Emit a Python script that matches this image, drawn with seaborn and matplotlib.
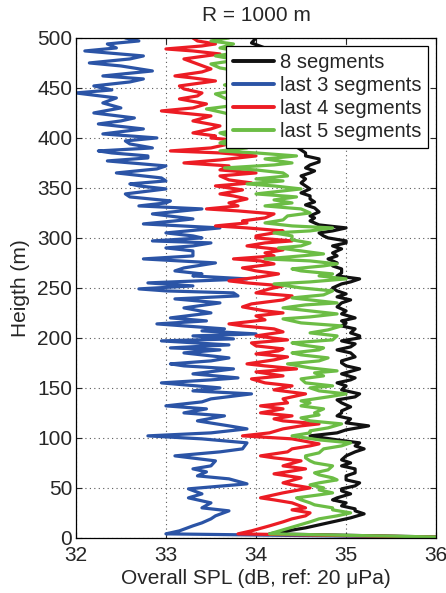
import matplotlib
matplotlib.use('Agg')
import matplotlib.pyplot as plt
import seaborn as sns
import pandas as pd

# series labels and colours
labels = ['8 segments', 'last 3 segments', 'last 4 segments', 'last 5 segments']
colors = ['#111111', '#2b54a6', '#ec1c24', '#6cbd45']

# (height m, overall SPL dB)
h_black = [0, 4, 7, 10, 13, 17, 20, 24, 27, 29, 32, 35, 38, 40, 44, 47, 49, 52, 55, 58,
           62, 65, 69, 72, 75, 78, 82, 86, 89, 92, 95, 98, 102, 105, 108, 112, 115, 119, 122, 125,
           127, 131, 135, 138, 141, 144, 148, 152, 155, 158, 160, 164, 169, 172, 175, 177, 181, 185, 188, 191,
           194, 197, 200, 202, 205, 209, 212, 215, 217, 220, 224, 227, 231, 235, 238, 241, 244, 247, 250, 254,
           256, 259, 262, 265, 269, 272, 275, 279, 282, 285, 289, 292, 295, 297, 300, 302, 305, 307, 310, 313,
           317, 320, 322, 326, 330, 333, 336, 339, 342, 345, 349, 352, 355, 359, 362, 365, 367, 370, 373, 376,
           379, 382, 385, 388, 391, 395, 400, 420, 450, 480, 490, 495, 500]
x_black = [36.5, 34.15, 34.35, 34.55, 34.7, 34.9, 35.05, 35.2, 35.1, 35.1, 34.95, 35.0, 34.85, 34.9, 35.05, 34.95, 34.95, 35.1, 35.15, 35.0,
           35.0, 35.1, 35.1, 34.95, 35.05, 34.95, 35.0, 35.1, 35.2, 35.1, 35.15, 34.9, 34.6, 34.9, 35.0, 35.25, 35.0, 35.05, 34.9, 34.95,
           34.95, 35.05, 34.95, 34.9, 35.1, 35.15, 34.95, 35.0, 34.9, 35.05, 35.1, 34.95, 35.15, 35.0, 34.95, 34.95, 35.1, 35.05, 34.9, 35.05,
           35.1, 34.95, 35.15, 35.15, 35.05, 35.1, 34.95, 35.0, 34.95, 35.1, 34.95, 35.0, 34.9, 34.95, 35.05, 34.9, 35.0, 34.9, 34.85, 34.95,
           35.05, 35.15, 34.9, 34.95, 34.95, 34.85, 34.9, 34.8, 34.9, 34.85, 34.95, 34.85, 35.0, 35.0, 34.8, 34.75, 34.7, 34.85, 35.0, 34.7,
           34.6, 34.65, 34.6, 34.7, 34.65, 34.55, 34.65, 34.6, 34.6, 34.5, 34.6, 34.55, 34.5, 34.55, 34.5, 34.6, 34.65, 34.55, 34.6, 34.7,
           34.7, 34.55, 34.55, 34.5, 34.45, 34.4, 34.2, 34.0, 33.9, 34.0, 34.1, 33.95, 34.0]

h_blue = [0, 4, 7, 12, 15, 19, 22, 27, 30, 35, 40, 44, 49, 54, 59, 62, 66, 69, 72, 77,
          82, 86, 89, 95, 99, 102, 105, 109, 112, 117, 122, 125, 129, 132, 136, 139, 144, 147, 150, 155,
          158, 160, 164, 169, 172, 174, 177, 180, 185, 188, 190, 193, 197, 199, 202, 204, 207, 209, 214, 217,
          220, 225, 230, 235, 239, 242, 245, 247, 249, 252, 255, 259, 262, 264, 267, 270, 275, 279, 282, 287,
          290, 292, 295, 297, 300, 302, 305, 310, 314, 317, 319, 324, 329, 332, 335, 337, 341, 344, 349, 352,
          354, 357, 360, 365, 369, 372, 377, 380, 382, 385, 387, 390, 394, 397, 400, 404, 409, 414, 417, 420,
          425, 430, 435, 440, 445, 448, 452, 456, 459, 462, 467, 472, 475, 479, 482, 487, 490, 494, 497, 500]
x_blue = [36.5, 33.0, 33.15, 33.3, 33.4, 33.5, 33.55, 33.7, 33.4, 33.5, 33.25, 33.4, 33.25, 33.9, 33.7, 33.35, 33.45, 33.3, 33.5, 33.55,
          33.1, 33.6, 33.85, 33.9, 33.4, 32.8, 33.5, 33.9, 33.7, 33.35, 33.65, 33.2, 33.45, 33.0, 33.4, 33.5, 33.95, 33.3, 33.6, 32.95,
          33.5, 33.8, 33.3, 33.75, 33.2, 33.05, 33.5, 33.7, 33.2, 33.6, 33.05, 33.7, 32.95, 33.75, 33.3, 34.0, 33.4, 33.65, 32.9, 33.45,
          33.05, 33.5, 33.2, 33.6, 33.1, 33.8, 33.75, 33.0, 32.7, 33.3, 32.8, 33.9, 33.3, 33.4, 33.1, 33.2, 33.55, 32.75, 33.3, 33.3,
          33.0, 33.3, 33.5, 32.85, 33.4, 33.3, 33.0, 33.6, 32.75, 33.1, 33.3, 32.85, 33.4, 32.7, 33.0, 33.05, 32.6, 32.55, 33.0, 32.7,
          32.6, 33.0, 32.95, 32.45, 32.9, 33.0, 32.35, 32.8, 32.8, 32.4, 32.25, 32.85, 32.6, 32.55, 32.9, 32.3, 32.75, 32.25, 32.5, 32.65,
          32.2, 32.5, 32.3, 32.45, 32.0, 32.4, 32.2, 32.6, 32.75, 32.3, 32.85, 32.5, 32.15, 32.6, 32.75, 32.1, 32.45, 32.35, 32.7, 32.55]

h_red = [0, 4, 7, 12, 16, 19, 22, 25, 28, 30, 35, 38, 40, 45, 50, 53, 55, 60, 64, 69,
         72, 77, 80, 82, 86, 89, 92, 94, 99, 102, 105, 109, 112, 114, 117, 119, 122, 125, 129, 132,
         135, 139, 142, 144, 148, 152, 155, 159, 162, 166, 169, 172, 174, 178, 181, 184, 187, 189, 192, 195,
         198, 202, 206, 209, 212, 214, 218, 222, 225, 227, 231, 234, 238, 242, 245, 249, 252, 255, 257, 261,
         264, 267, 270, 274, 277, 279, 282, 285, 288, 292, 295, 297, 300, 302, 305, 307, 310, 312, 315, 317,
         320, 324, 327, 329, 332, 335, 339, 342, 344, 348, 352, 355, 358, 362, 365, 368, 372, 375, 378, 382,
         385, 387, 390, 394, 397, 400, 402, 405, 409, 412, 417, 422, 427, 430, 434, 439, 442, 445, 449, 452,
         457, 460, 462, 466, 469, 474, 479, 484, 487, 489, 492, 494, 497, 500]
x_red = [36.5, 33.8, 33.95, 34.15, 34.3, 34.4, 34.55, 34.6, 34.4, 34.55, 34.4, 34.2, 34.05, 34.3, 34.6, 34.4, 34.3, 34.5, 34.2, 34.55,
         34.3, 34.5, 34.2, 34.05, 34.35, 34.4, 34.6, 34.7, 34.4, 33.85, 34.15, 34.3, 34.5, 34.7, 34.3, 34.2, 34.4, 34.05, 34.3, 34.05,
         34.35, 34.3, 34.45, 34.55, 34.2, 34.4, 34.1, 33.95, 34.3, 34.0, 34.45, 34.1, 33.9, 34.2, 34.35, 34.0, 34.25, 34.3, 34.0, 33.95,
         34.35, 34.0, 34.3, 34.2, 33.85, 33.7, 34.1, 34.0, 34.3, 34.1, 33.85, 33.95, 34.3, 34.4, 34.0, 34.15, 34.3, 33.9, 33.7, 34.05,
         34.25, 34.0, 33.85, 34.2, 34.05, 33.75, 34.2, 34.1, 34.3, 33.9, 34.1, 34.4, 34.0, 34.0, 34.2, 34.3, 33.9, 33.55, 33.9, 33.85,
         34.1, 34.2, 33.8, 33.45, 33.8, 33.7, 33.9, 33.75, 33.6, 33.85, 33.55, 33.95, 33.7, 33.6, 34.0, 33.6, 33.7, 33.2, 33.6, 34.0,
         33.6, 33.05, 33.5, 33.7, 33.85, 33.5, 33.55, 33.3, 33.5, 33.6, 33.3, 33.5, 32.95, 33.3, 33.45, 33.15, 33.35, 33.4, 33.2, 33.15,
         33.55, 33.3, 33.1, 33.4, 33.5, 33.35, 33.2, 33.6, 33.3, 33.0, 33.4, 33.55, 33.35, 33.3]

h_green = [0, 4, 8, 12, 16, 19, 22, 25, 28, 30, 33, 35, 38, 40, 43, 45, 48, 50, 53, 55,
           58, 60, 63, 65, 68, 72, 75, 77, 80, 82, 85, 89, 92, 95, 98, 102, 105, 107, 110, 114,
           117, 120, 123, 125, 129, 132, 135, 137, 141, 144, 147, 150, 152, 155, 159, 162, 165, 167, 170, 174,
           177, 180, 183, 185, 188, 190, 193, 195, 198, 202, 205, 208, 212, 215, 219, 221, 224, 227, 230, 233,
           235, 238, 240, 243, 247, 250, 254, 256, 259, 262, 264, 267, 269, 272, 274, 277, 279, 282, 284, 287,
           290, 292, 295, 298, 302, 305, 307, 310, 312, 315, 318, 322, 325, 329, 332, 335, 338, 341, 344, 347,
           349, 352, 354, 357, 359, 362, 365, 368, 370, 373, 375, 379, 382, 385, 387, 390, 395, 400, 405, 410,
           415, 420, 425, 429, 433, 438, 444, 448, 453, 458, 462, 467, 470, 474, 478, 482, 486, 490, 494, 497, 500]
x_green = [36.5, 34.15, 34.3, 34.45, 34.6, 34.7, 34.9, 35.05, 34.85, 34.85, 34.65, 34.6, 34.5, 34.45, 34.7, 34.85, 34.7, 34.75, 34.6, 34.7,
           34.9, 34.85, 34.7, 34.65, 34.8, 34.85, 34.65, 34.6, 34.55, 34.55, 34.7, 34.75, 34.95, 35.05, 34.7, 34.4, 34.6, 34.6, 34.8, 34.95,
           34.6, 34.5, 34.7, 34.65, 34.75, 34.5, 34.6, 34.5, 34.8, 35.0, 34.7, 34.6, 34.85, 34.55, 34.5, 34.75, 34.65, 34.9, 34.6, 34.35,
           34.7, 34.8, 34.5, 34.4, 34.7, 34.75, 34.5, 34.4, 34.85, 34.9, 34.6, 34.8, 34.95, 34.5, 34.3, 34.6, 34.9, 34.6, 34.3, 34.55,
           34.9, 34.6, 34.4, 34.75, 34.85, 34.5, 34.2, 34.6, 35.0, 34.7, 34.85, 34.5, 34.4, 34.75, 34.9, 34.6, 34.1, 34.5, 34.75, 34.5,
           34.25, 34.5, 34.6, 34.4, 34.4, 34.2, 34.6, 34.85, 34.4, 34.1, 34.3, 34.35, 34.6, 34.5, 34.1, 34.4, 34.2, 34.45, 34.0, 34.3,
           34.5, 34.2, 33.9, 34.3, 34.0, 34.35, 34.3, 34.0, 33.65, 34.2, 34.4, 34.1, 34.45, 34.0, 33.6, 33.9, 33.6, 33.75, 33.6, 33.9,
           33.7, 33.85, 33.65, 33.45, 33.8, 33.7, 33.55, 33.8, 33.65, 33.9, 33.7, 33.8, 33.6, 33.5, 33.8, 33.55, 33.85, 33.6, 33.75, 33.5, 33.7]

x_ticks = [32, 33, 34, 35, 36]
y_ticks = list(range(0, 501, 50))

frames = []
for lab, hh, xx in zip(labels, [h_black, h_blue, h_red, h_green], [x_black, x_blue, x_red, x_green]):
    frames.append(pd.DataFrame({'height': hh, 'spl': xx, 'series': lab}))
df = pd.concat(frames, ignore_index=True)

sns.set_style('ticks')
plt.rcParams['font.family'] = ['Liberation Sans', 'DejaVu Sans']

fig, ax = plt.subplots(figsize=(4.46, 5.93), dpi=100)
fig.subplots_adjust(left=0.170, right=0.978, top=0.936, bottom=0.093)

sns.lineplot(data=df, x='spl', y='height', hue='series', hue_order=labels,
             palette=dict(zip(labels, colors)), sort=False, estimator=None,
             orient='y', lw=2.3, ax=ax)

ax.set_xlim(32, 36)
ax.set_ylim(0, 500)
ax.set_xticks(x_ticks)
ax.set_yticks(y_ticks)
ax.grid(True, linestyle=(0, (1, 3)), color='0.35', lw=0.8)
ax.set_axisbelow(True)
ax.tick_params(direction='in', top=True, right=True, labelsize=15, length=4, width=0.8)
ax.tick_params(axis='y', pad=2.5)
ax.tick_params(axis='x', pad=6)
for s in ax.spines.values():
    s.set_color('black')
    s.set_linewidth(0.9)

ax.set_title('R = 1000 m', fontsize=15, pad=12)
ax.set_xlabel('Overall SPL (dB, ref: 20 μPa)', fontsize=15, labelpad=3)
ax.set_ylabel('Heigth (m)', fontsize=15, labelpad=5)

leg = ax.legend(loc='upper right', fontsize=14.5, frameon=True, fancybox=False,
                edgecolor='black', framealpha=1, borderaxespad=0.4,
                handlelength=2.0, handletextpad=0.3, labelspacing=0.2, borderpad=0.35)
leg.get_frame().set_linewidth(0.9)
for line in leg.get_lines():
    line.set_linewidth(2.8)

fig.savefig('out.png', dpi=100)
